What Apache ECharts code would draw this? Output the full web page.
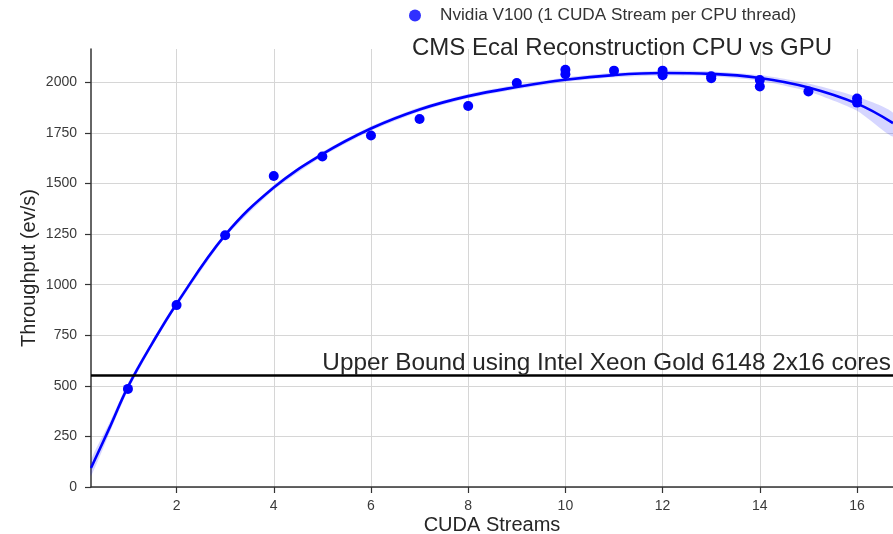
<!DOCTYPE html>
<html>
<head>
<meta charset="utf-8">
<script src="https://cdn.jsdelivr.net/npm/echarts@6/dist/echarts.min.js"></script>
<style>
html,body{margin:0;padding:0;background:#fff;}
#main{width:893px;height:534px;}
</style>
</head>
<body>
<div id="main"></div>
<script>
// Measured data: CUDA streams vs throughput (ev/s)
var streams = [1, 2, 3, 4, 5, 6, 7, 8, 9, 10, 10, 11, 12, 12, 13, 13, 14, 14, 15, 16, 16];
var throughput = [485, 899, 1244, 1537, 1634, 1737, 1819, 1883, 1997, 2040, 2062, 2058, 2035, 2058, 2020, 2030, 1980, 2012, 1955, 1900, 1920];

// Regression curve and its confidence band
var fitX = [0.24, 0.63, 1, 1.5, 2, 3, 4, 5, 6, 7, 8, 9, 10, 11, 12, 13, 14, 15, 16, 16.74];
var fitY = [94, 297, 495, 710, 905, 1245, 1480, 1645, 1772, 1866, 1932, 1977, 2013, 2036, 2046, 2042, 2022, 1975, 1895, 1799];
var bandLow = [55, 272, 477, 696, 891, 1233, 1468, 1634, 1761, 1855, 1921, 1966, 2002, 2025, 2034, 2030, 2008, 1955, 1860, 1733];
var bandHigh = [133, 322, 513, 724, 919, 1257, 1492, 1656, 1783, 1877, 1943, 1988, 2024, 2047, 2058, 2054, 2036, 1995, 1930, 1850];

var xTicks = [2, 4, 6, 8, 10, 12, 14, 16];
var yTicks = [0, 250, 500, 750, 1000, 1250, 1500, 1750, 2000];
var upperBound = 550;

var legendName = 'Nvidia V100 (1 CUDA Stream per CPU thread)';
var titleText = 'CMS Ecal Reconstruction CPU vs GPU';
var boundText = 'Upper Bound using Intel Xeon Gold 6148 2x16 cores';

var FONT = '"Liberation Sans", Arial, sans-serif';

var chart = echarts.init(document.getElementById('main'), null, {renderer: 'canvas'});

var scatterData = streams.map(function (s, i) { return [s, throughput[i]]; });
var fitData = fitX.map(function (x, i) { return [x, fitY[i]]; });
var bandData = fitX.map(function (x, i) { return [x, bandLow[i], bandHigh[i]]; });

chart.setOption({
  animation: false,
  backgroundColor: '#ffffff',
  title: {
    text: titleText,
    left: 617, top: 31, textAlign: 'center',
    textStyle: {fontFamily: FONT, fontSize: 24, fontWeight: 'normal', color: '#262626'}
  },
  legend: {
    data: [{name: legendName, itemStyle: {color: '#3030ff'}}],
    left: 404, top: 2,
    icon: 'circle', itemWidth: 12, itemHeight: 12,
    textStyle: {fontFamily: FONT, fontSize: 17.2, color: '#333333', padding: [0, 0, 0, 14]}
  },
  grid: {left: 91, right: 0, top: 49, bottom: 47, containLabel: false, outerBoundsMode: 'none'},
  xAxis: {
    type: 'value', min: 0.24, max: 16.74,
    name: 'CUDA Streams', nameLocation: 'middle', nameGap: 28.5, nameMoveOverlap: false,
    nameTextStyle: {fontFamily: FONT, fontSize: 20, color: '#262626'},
    axisLine: {show: true, lineStyle: {color: '#333333', width: 1.5}},
    axisTick: {show: true, length: 6, customValues: xTicks, lineStyle: {color: '#333333', width: 1.2}},
    axisLabel: {customValues: xTicks, margin: 12, fontFamily: FONT, fontSize: 14, color: '#3a3a3a'},
    splitLine: {show: true, lineStyle: {color: '#d6d6d6', width: 1}}
  },
  yAxis: {
    type: 'value', min: 0, max: 2165,
    name: 'Throughput (ev/s)', nameLocation: 'middle', nameGap: 52, nameMoveOverlap: false,
    nameTextStyle: {fontFamily: FONT, fontSize: 20, color: '#262626'},
    axisLine: {show: true, lineStyle: {color: '#333333', width: 1.5}},
    axisTick: {show: true, length: 6, customValues: yTicks, lineStyle: {color: '#333333', width: 1.2}},
    axisLabel: {
      customValues: yTicks, margin: 14, fontFamily: FONT, fontSize: 14, color: '#3a3a3a',
      formatter: function (v) { return String(v); }
    },
    splitLine: {show: true, lineStyle: {color: '#d6d6d6', width: 1}}
  },
  series: [
    {
      name: 'band', type: 'custom', data: bandData, silent: true, z: 1,
      encode: {x: 0, y: [1, 2]},
      renderItem: function (params, api) {
        if (params.dataIndex !== 0) { return null; }
        var upper = [], lower = [];
        for (var i = 0; i < fitX.length; i++) {
          upper.push(api.coord([fitX[i], bandHigh[i]]));
          lower.push(api.coord([fitX[i], bandLow[i]]));
        }
        return {
          type: 'polygon',
          shape: {points: upper.concat(lower.reverse()), smooth: 0.2},
          style: {fill: 'rgba(0,0,255,0.16)'}
        };
      }
    },
    {
      name: 'fit', type: 'line', data: fitData, smooth: 0.4, symbol: 'none',
      lineStyle: {color: '#0000ff', width: 2.6}, z: 3,
      markLine: {
        silent: true, symbol: 'none',
        lineStyle: {color: '#000000', width: 2.5, type: 'solid'},
        label: {
          show: true, position: 'insideEndTop', distance: [2, 0],
          formatter: boundText,
          fontFamily: FONT, fontSize: 24.3, color: '#262626'
        },
        data: [{yAxis: upperBound}]
      }
    },
    {
      name: legendName, type: 'scatter', data: scatterData,
      symbolSize: 10, itemStyle: {color: '#0000ff', opacity: 1}, z: 4
    }
  ]
});
</script>
</body>
</html>
